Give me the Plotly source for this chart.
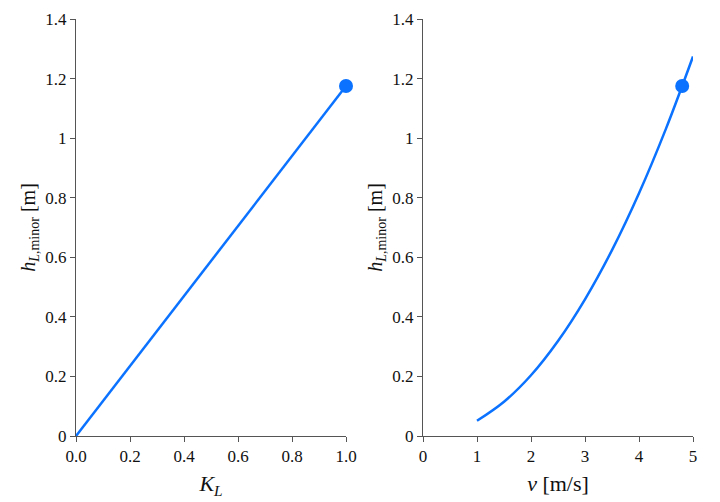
import plotly.graph_objects as go

# left panel: loss vs coefficient
k_l = [0.0, 1.0]
h_k = [0.0, 1.175]
k_point = [1.0]
h_k_point = [1.175]

# right panel: loss vs velocity
v = [1.0, 1.5, 2.0, 2.5, 3.0, 3.5, 4.0, 4.5, 5.0]
h_v = [0.051, 0.115, 0.204, 0.319, 0.459, 0.624, 0.815, 1.032, 1.274]
v_point = [4.8]
h_v_point = [1.175]

blue = "#0a72ff"
serif = "Liberation Serif"

fig = go.Figure()
fig.add_trace(go.Scatter(x=k_l, y=h_k, mode="lines", line=dict(color=blue, width=2.5),
                         xaxis="x", yaxis="y", cliponaxis=False, showlegend=False))
fig.add_trace(go.Scatter(x=k_point, y=h_k_point, mode="markers", marker=dict(color=blue, size=14),
                         xaxis="x", yaxis="y", cliponaxis=False, showlegend=False))
fig.add_trace(go.Scatter(x=v, y=h_v, mode="lines", line=dict(color=blue, width=2.5, shape="spline"),
                         xaxis="x2", yaxis="y2", cliponaxis=False, showlegend=False))
fig.add_trace(go.Scatter(x=v_point, y=h_v_point, mode="markers", marker=dict(color=blue, size=14),
                         xaxis="x2", yaxis="y2", cliponaxis=False, showlegend=False))

ytitle = "<i>h</i><sub><i>L</i>,minor</sub> [m]"
common = dict(showgrid=False, zeroline=False, showline=True, linecolor="#555", linewidth=1,
              ticks="outside", ticklen=5, tickcolor="#555", automargin=False)
xt_font = dict(family=serif, size=22, color="#111")
yt_font = dict(family=serif, size=20, color="#111")

fig.update_layout(
    width=720, height=502,
    margin=dict(l=0, r=0, t=11, b=74),
    paper_bgcolor="white", plot_bgcolor="white",
    font=dict(family=serif, size=17, color="#111"),
    xaxis=dict(domain=[68 / 720, 338 / 720], range=[0, 1], dtick=0.2, tickformat=".1f",
               title=dict(text="<i>K</i><sub><i>L</i></sub>", font=xt_font, standoff=10),
               anchor="y", **common),
    yaxis=dict(domain=[0, 1], range=[0, 1.4], dtick=0.2,
               title=dict(text=ytitle, font=yt_font, standoff=4),
               anchor="x", **common),
    xaxis2=dict(domain=[415 / 720, 685 / 720], range=[0, 5], dtick=1,
                title=dict(text="<i>v</i> [m/s]", font=xt_font, standoff=10),
                anchor="y2", **common),
    yaxis2=dict(domain=[0, 1], range=[0, 1.4], dtick=0.2,
                title=dict(text=ytitle, font=yt_font, standoff=4),
                anchor="x2", **common),
)
fig.update_xaxes(tickfont=dict(family=serif, size=17, color="#111"))
fig.update_yaxes(tickfont=dict(family=serif, size=17, color="#111"))

fig.write_html("out.html")
